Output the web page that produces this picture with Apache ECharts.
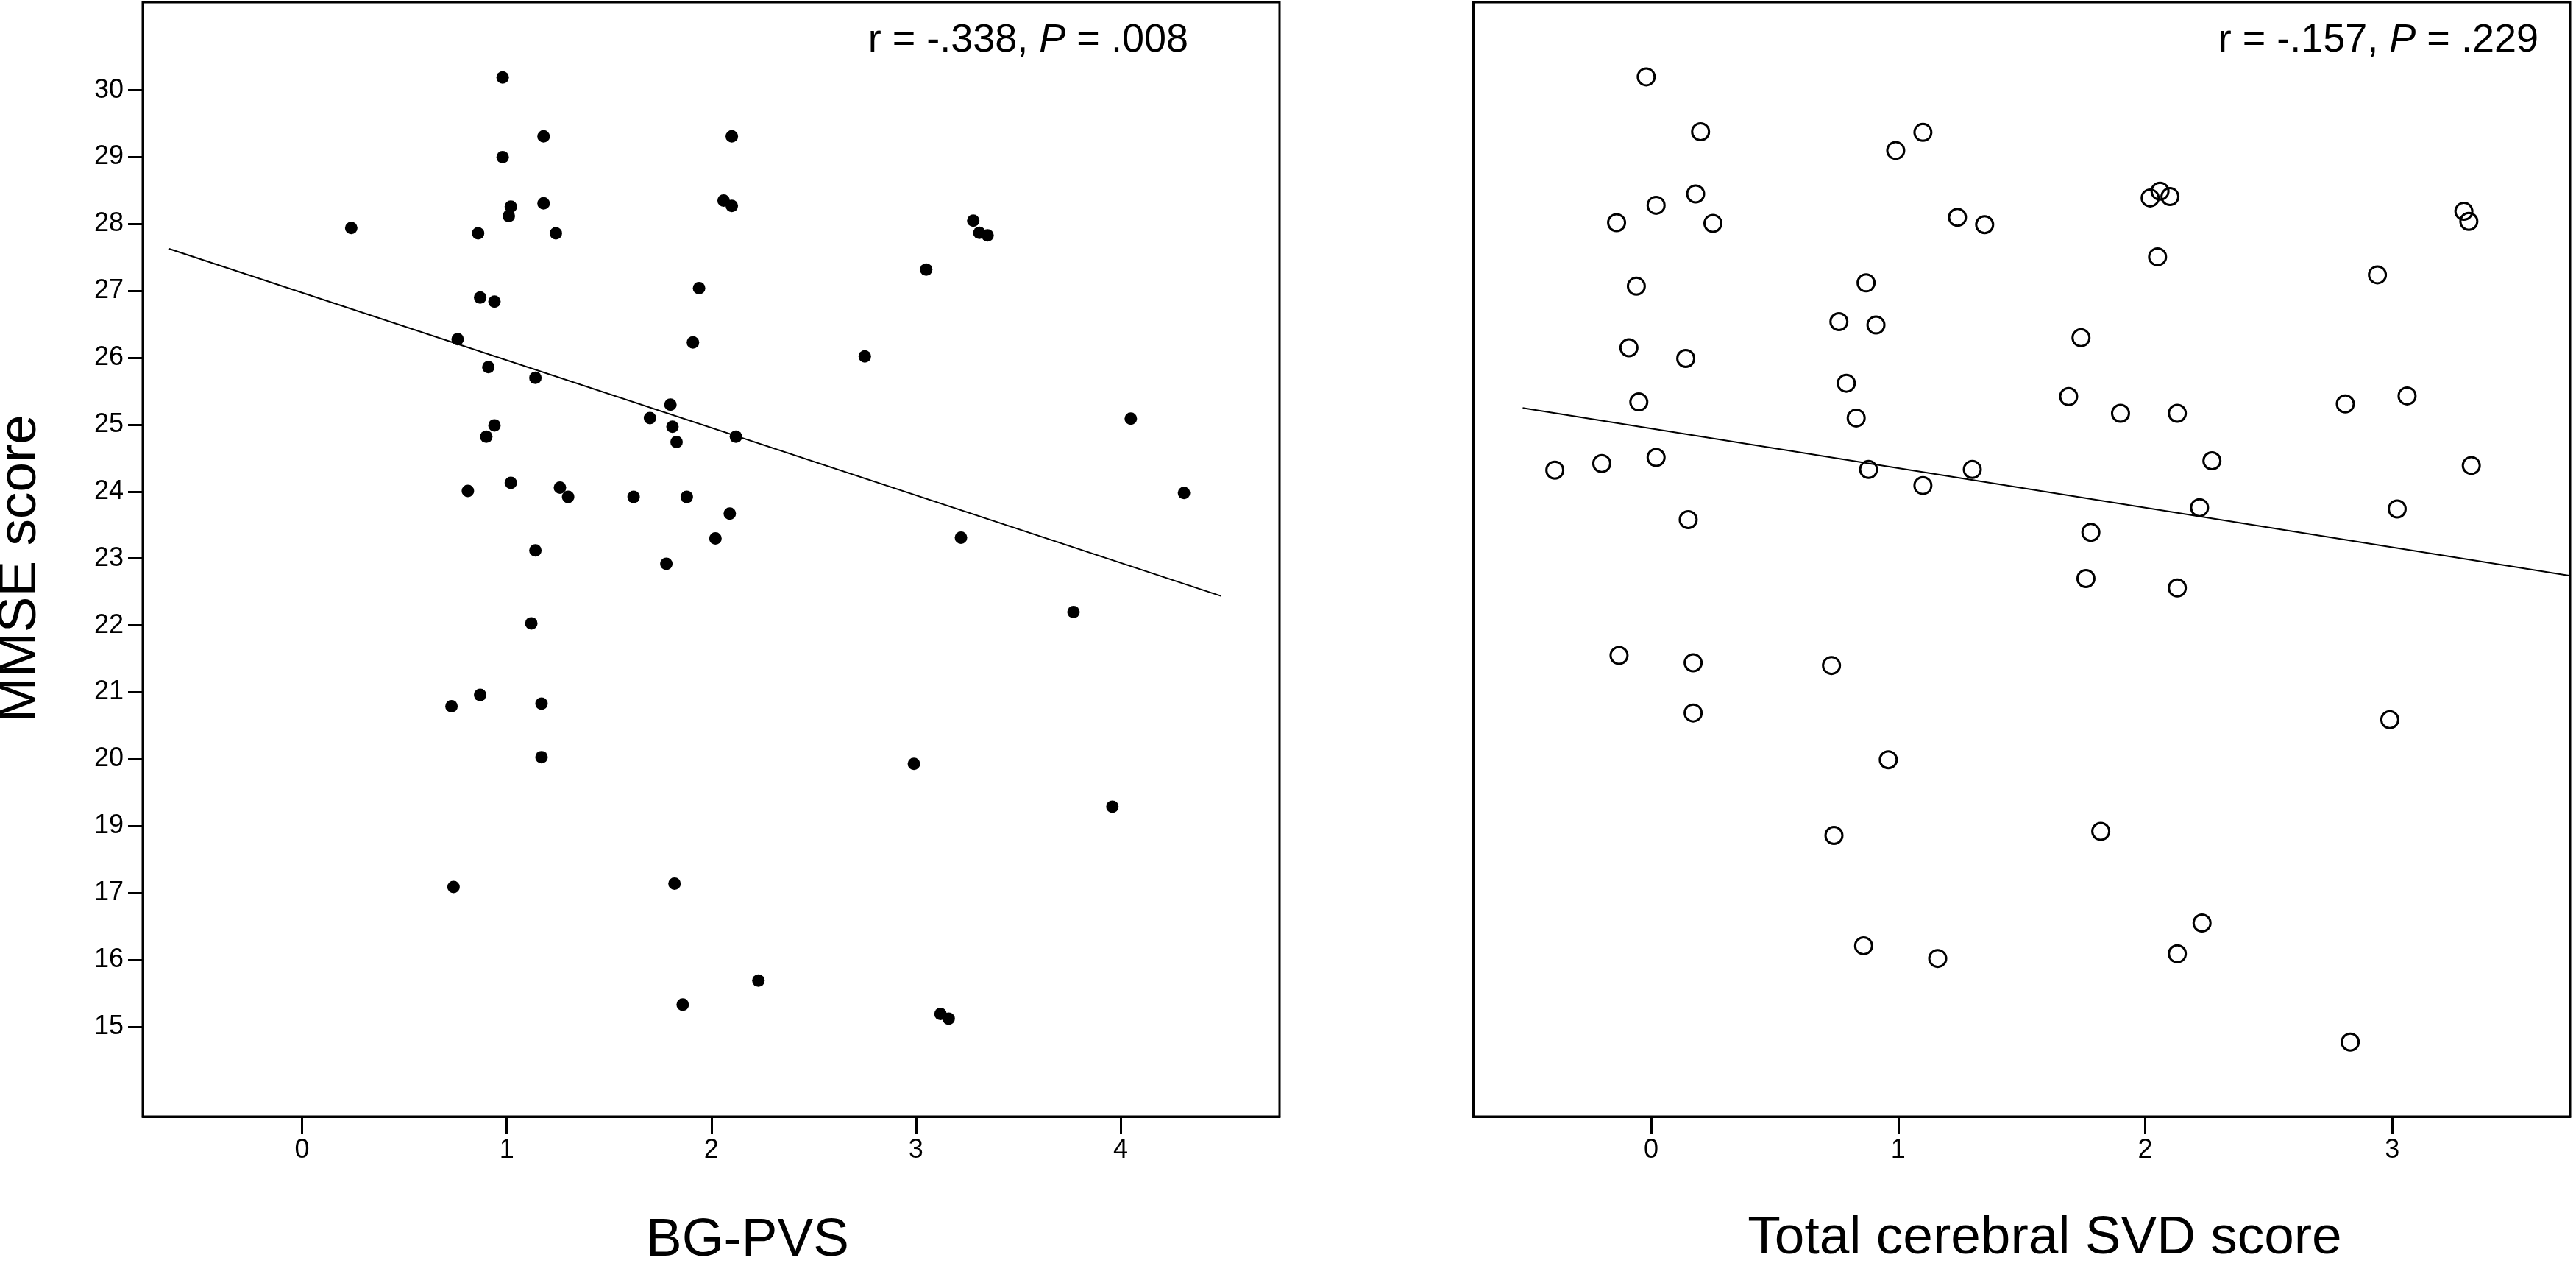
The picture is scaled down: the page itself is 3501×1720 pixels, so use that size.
<!DOCTYPE html>
<html>
	<head>
		<meta charset="UTF-8">
		<title>MMSE score vs BG-PVS / Total cerebral SVD score</title>
		<style type="text/css">
			html,body{
				margin: 0;
				padding: 0;
				width: 100%;
				height: 100%;
				background: #fff;
			}
			#main{
				width: 3501px;
				height: 1720px;
			}
		</style>
	</head>
	<body>
		<div id="main"></div>
		<script src="https://cdn.jsdelivr.net/npm/echarts@6.0.0/dist/echarts.min.js"></script>
		<script>
			// y values are positions on the drawn MMSE axis: tick v carries label yTickLabels[i]
			// (the source figure skips 18, so labels above 17 sit one step lower)
			var yTickValues = [15, 16, 17, 18, 19, 20, 21, 22, 23, 24, 25, 26, 27, 28, 29];
			var yTickLabels = ['15', '16', '17', '19', '20', '21', '22', '23', '24', '25', '26', '27', '28', '29', '30'];

			var bgTicks = [0, 1, 2, 3, 4];
			var svdTicks = [0, 1, 2, 3];

			// left panel: BG-PVS
			var bgPvs = [0.24, 0.98, 0.98, 1.18, 1.02, 1.01, 0.86, 1.18, 1.24, 0.87,
				0.94, 0.76, 0.91, 1.14, 0.94, 0.90, 0.81, 1.02, 1.26, 1.30,
				1.14, 1.62, 1.70, 1.80, 1.81, 1.83, 1.88, 1.78, 1.91, 1.94,
				2.10, 2.06, 2.10, 2.12, 2.09, 2.02, 2.75, 3.05, 3.28, 3.31,
				3.35, 4.05, 4.31, 3.22, 3.77, 1.12, 0.73, 0.87, 1.17, 1.17,
				0.74, 1.82, 1.86, 2.99, 3.96, 2.23, 3.12, 3.16];
			var mmseA = [26.94, 29.19, 28.00, 28.31, 27.26, 27.12, 26.86, 27.31, 26.86, 25.90,
				25.84, 25.28, 24.86, 24.70, 23.99, 23.82, 23.01, 23.13, 23.06, 22.92,
				22.12, 22.92, 24.10, 24.30, 23.97, 23.74, 22.92, 21.92, 25.23, 26.04,
				28.31, 27.35, 27.27, 23.82, 22.67, 22.30, 25.02, 26.32, 27.05, 26.87,
				26.83, 24.09, 22.98, 22.31, 21.20, 21.03, 19.79, 19.96, 19.83, 19.03,
				17.09, 17.14, 15.33, 18.93, 18.29, 15.69, 15.19, 15.12];
			var fitAx = [-0.65, 4.49];
			var fitAy = [26.63, 21.44];

			// right panel: total cerebral SVD score
			var svdScore = [-0.02, 0.20, 0.99, 1.10, 0.02, -0.14, 0.18, 0.25, 1.24, 1.35,
				-0.06, -0.09, 0.14, -0.05, -0.39, -0.20, 0.02, 0.15, 0.87, 0.76,
				0.91, 0.79, 0.83, 0.88, 1.10, 1.30, 2.02, 2.06, 2.10, 2.05,
				3.29, 3.31, 2.94, 1.74, 1.69, 1.90, 2.13, 2.27, 2.22, 1.78,
				1.76, 2.13, 2.81, 3.06, 3.32, 3.02, -0.13, 0.17, 0.73, 0.17,
				0.96, 0.74, 0.86, 1.16, 2.99, 1.82, 2.23, 2.13, 2.83];
			var mmseB = [29.20, 28.38, 28.10, 28.37, 27.28, 27.02, 27.45, 27.01, 27.10, 26.99,
				26.07, 25.15, 24.99, 24.34, 23.32, 23.42, 23.51, 22.58, 26.12, 25.54,
				25.49, 24.62, 24.10, 23.33, 23.09, 23.33, 27.39, 27.49, 27.41, 26.51,
				27.19, 27.04, 26.24, 25.30, 24.42, 24.17, 24.17, 23.46, 22.76, 22.39,
				21.70, 21.56, 24.31, 24.43, 23.39, 22.74, 20.55, 20.44, 20.40, 19.69,
				18.99, 17.86, 16.21, 16.02, 19.59, 17.92, 16.55, 16.09, 14.77];
			var fitBx = [-0.52, 3.72];
			var fitBy = [24.25, 21.74];

			function pairs(xs, ys){
				return xs.map(function(x, i){ return [x, ys[i]]; });
			}

			var FONT = '"Liberation Sans", Arial, sans-serif';
			var black = '#000';

			function xAxisOf(gridIndex, min, max, ticks){
				return {
					gridIndex: gridIndex,
					type: 'value',
					min: min,
					max: max,
					axisLine: { show: true, onZero: false, lineStyle: { color: black, width: 3 } },
					axisTick: { show: true, customValues: ticks, length: 24, lineStyle: { color: black, width: 3 } },
					axisLabel: { show: true, customValues: ticks, margin: 28, color: black, fontSize: 36, fontFamily: FONT },
					splitLine: { show: false }
				};
			}

			var myChart = echarts.init(document.getElementById('main'), null, { renderer: 'canvas' });

			myChart.setOption({
				backgroundColor: '#fff',
				animation: false,
				grid: [
					{ left: 194, top: 3, width: 1545, height: 1514, show: true, borderColor: black, borderWidth: 3, backgroundColor: 'transparent', outerBoundsMode: 'none' },
					{ left: 2002, top: 3, width: 1491, height: 1514, show: true, borderColor: black, borderWidth: 3, backgroundColor: 'transparent', outerBoundsMode: 'none' }
				],
				xAxis: [
					xAxisOf(0, -0.779, 4.777, bgTicks),
					xAxisOf(1, -0.721, 3.72, svdTicks)
				],
				yAxis: [
					{
						gridIndex: 0,
						type: 'value',
						min: 13.656,
						max: 30.316,
						axisLine: { show: true, onZero: false, lineStyle: { color: black, width: 3 } },
						axisTick: { show: true, customValues: yTickValues, length: 20, lineStyle: { color: black, width: 3 } },
						axisLabel: {
							show: true,
							customValues: yTickValues,
							margin: 26,
							color: black,
							fontSize: 36,
							fontFamily: FONT,
							formatter: function(v){
								return yTickLabels[yTickValues.indexOf(Math.round(v))];
							}
						},
						splitLine: { show: false }
					},
					{
						gridIndex: 1,
						type: 'value',
						min: 13.656,
						max: 30.316,
						axisLine: { show: true, onZero: false, lineStyle: { color: black, width: 3 } },
						axisTick: { show: false },
						axisLabel: { show: false },
						splitLine: { show: false }
					}
				],
				series: [
					{
						type: 'line',
						xAxisIndex: 0,
						yAxisIndex: 0,
						data: pairs(fitAx, fitAy),
						symbol: 'none',
						lineStyle: { color: black, width: 2 },
						z: 1
					},
					{
						type: 'scatter',
						xAxisIndex: 0,
						yAxisIndex: 0,
						data: pairs(bgPvs, mmseA),
						symbol: 'circle',
						symbolSize: 17,
						itemStyle: { color: black, opacity: 1 },
						z: 2
					},
					{
						type: 'line',
						xAxisIndex: 1,
						yAxisIndex: 1,
						data: pairs(fitBx, fitBy),
						symbol: 'none',
						lineStyle: { color: black, width: 2 },
						z: 1
					},
					{
						type: 'scatter',
						xAxisIndex: 1,
						yAxisIndex: 1,
						data: pairs(svdScore, mmseB),
						symbol: 'circle',
						symbolSize: 23,
						itemStyle: { color: 'rgba(0,0,0,0)', borderColor: black, borderWidth: 3, opacity: 1 },
						z: 2
					}
				],
				graphic: [
					{
						type: 'text',
						x: 1615,
						y: 55,
						style: {
							text: 'r = -.338, {i|P} = .008',
							fill: black,
							font: '54px ' + FONT,
							align: 'right',
							verticalAlign: 'middle',
							rich: { i: { fontStyle: 'italic', fontSize: 54, fontFamily: FONT, fill: black } }
						}
					},
					{
						type: 'text',
						x: 3450,
						y: 55,
						style: {
							text: 'r = -.157, {i|P} = .229',
							fill: black,
							font: '54px ' + FONT,
							align: 'right',
							verticalAlign: 'middle',
							rich: { i: { fontStyle: 'italic', fontSize: 54, fontFamily: FONT, fill: black } }
						}
					},
					{
						type: 'text',
						x: 28,
						y: 772,
						rotation: Math.PI / 2,
						style: { text: 'MMSE score', fill: black, font: '73px ' + FONT, align: 'center', verticalAlign: 'middle' }
					},
					{
						type: 'text',
						x: 1016,
						y: 1686,
						style: { text: 'BG-PVS', fill: black, font: '73px ' + FONT, align: 'center', verticalAlign: 'middle' }
					},
					{
						type: 'text',
						x: 2779,
						y: 1683,
						style: { text: 'Total cerebral SVD score', fill: black, font: '73px ' + FONT, align: 'center', verticalAlign: 'middle' }
					}
				]
			});
		</script>
	</body>
</html>
